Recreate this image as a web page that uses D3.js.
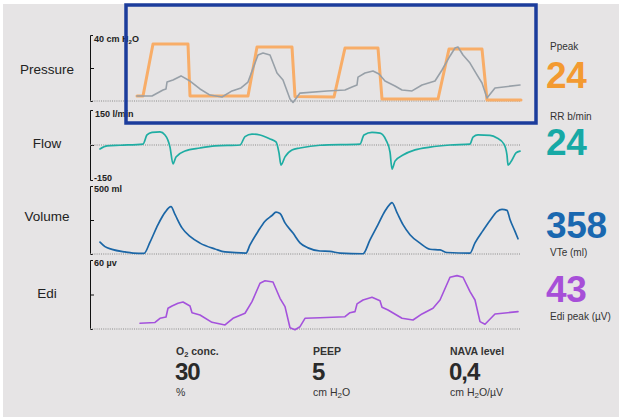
<!DOCTYPE html>
<html><head><meta charset="utf-8">
<script src="https://cdn.jsdelivr.net/npm/d3@7"></script>
<style>
html,body{margin:0;padding:0;background:#fff;}
svg{display:block;font-family:"Liberation Sans",Arial,Helvetica,sans-serif;}
</style></head>
<body>
<svg id="c" width="619" height="417"></svg>
<script>
// ---- data (time in seconds, values in units of each panel) ----
const pressureSet = [[1.175,3.0],[1.325,3.0],[1.575,34.5],[2.45,34.5],[2.5,3.0],[3.95,3.0],[4.175,32.7],[5.05,32.7],[5.125,2.7],[6.1,2.4],[6.375,32.1],[7.2,32.1],[7.3,1.2],[8.7,1.2],[8.975,31.5],[9.8,31.5],[9.925,0.6],[10.775,0.6]];
const pressureMeas = [[1.175,3.0],[1.55,3.0],[1.825,6.7],[1.9,7.3],[1.925,11.5],[2.075,12.7],[2.275,15.2],[2.5,12.1],[2.75,7.3],[3.0,3.6],[3.3,2.4],[3.55,6.1],[3.775,7.9],[3.95,11.5],[4.2,27.9],[4.325,29.1],[4.5,27.9],[4.675,17.0],[4.825,12.7],[5.0,1.2],[5.075,-0.9],[5.25,4.8],[5.925,6.1],[6.375,6.7],[6.55,8.5],[6.675,9.7],[6.7,14.5],[6.875,17.0],[7.075,18.2],[7.225,16.4],[7.375,12.1],[7.625,9.1],[7.8,6.7],[8.05,6.1],[8.3,9.7],[8.625,12.1],[8.8,18.8],[9.0,27.3],[9.125,32.1],[9.2,32.7],[9.325,27.9],[9.5,23.0],[9.675,15.8],[9.8,10.9],[9.925,1.8],[10.125,7.9],[10.75,9.7]];
const flowData = [[0.25,-17],[0.425,-4],[0.75,-1],[1.325,4],[1.425,43],[1.55,54],[1.75,56],[1.875,43],[2.0,-9],[2.075,-81],[2.15,-51],[2.375,-26],[2.75,-13],[3.125,-4],[3.75,0],[3.875,36],[4.05,47],[4.25,43],[4.5,26],[4.65,13],[4.725,-34],[4.775,-86],[4.875,-51],[5.05,-21],[5.25,-13],[5.75,-1],[6.75,4],[6.85,43],[7.05,54],[7.25,51],[7.4,21],[7.5,-30],[7.55,-103],[7.625,-69],[7.825,-43],[8.125,-21],[8.5,-9],[9.0,0],[9.5,4],[9.575,34],[9.7,43],[10.0,41],[10.175,30],[10.35,4],[10.425,-43],[10.45,-86],[10.55,-64],[10.65,-34],[10.75,-26]];
const volumeData = [[0.25,87],[0.375,54],[0.55,34],[0.875,15],[1.075,7],[1.35,4],[1.5,87],[1.7,216],[1.875,306],[2.025,348],[2.125,291],[2.3,192],[2.5,129],[2.75,80],[3.125,37],[3.375,15],[3.9,7],[4.0,67],[4.2,166],[4.375,241],[4.55,283],[4.65,308],[4.75,298],[4.875,229],[5.075,154],[5.25,82],[5.45,45],[5.75,22],[6.0,19],[6.25,7],[6.825,2],[7.0,104],[7.2,216],[7.375,316],[7.5,366],[7.55,378],[7.675,304],[7.825,216],[8.0,142],[8.25,80],[8.5,35],[8.75,30],[8.925,11],[9.5,7],[9.625,82],[9.825,172],[10.0,246],[10.175,311],[10.3,328],[10.425,321],[10.5,254],[10.625,166],[10.7,112]];
const ediData = [[1.25,5.0],[1.625,5.7],[1.75,9.3],[1.9,10.4],[1.95,18],[2.05,20],[2.2,22.4],[2.325,23.5],[2.5,20],[2.55,14.2],[2.75,12.2],[3.05,5.8],[3.375,3.5],[3.575,9.3],[3.875,13.7],[4.05,23.8],[4.25,39.8],[4.375,42],[4.575,40.9],[4.75,26.7],[4.875,19.4],[5.0,1.1],[5.125,-0.6],[5.25,2.0],[5.375,9.3],[5.75,9.8],[6.375,10.7],[6.5,14.2],[6.625,15.1],[6.675,21.8],[6.825,25.2],[7.05,27.6],[7.25,24.6],[7.3,18.9],[7.45,16.5],[7.8,9.3],[8.075,7.8],[8.3,13.1],[8.575,18],[8.75,25.2],[9.0,45],[9.175,46.4],[9.325,45],[9.5,32.5],[9.625,25.2],[9.75,6.4],[9.875,4.1],[10.125,13.1],[10.7,15.1]];

const panelNames = ["Pressure","Flow","Volume","Edi"];
const panelDomains = [[0,40],[-150,150],[0,500],[0,60]];
const readoutLabels = ["Ppeak","RR b/min","VTe (ml)","Edi peak (µV)"];
const readoutValues = ["24","24","358","43"];
const settingLabels = ["O2 conc.","PEEP","NAVA level"];
const settingValues = ["30","5","0,4"];
const settingUnits = ["%","cm H2O","cm H2O/µV"];

// ---- layout ----
const svg = d3.select("#c");
svg.append("rect").attr("x",3).attr("y",4).attr("width",616).attr("height",413).attr("fill","#e6e4e5");

const x = d3.scaleLinear().domain([0,10.75]).range([90,520]);
const panelRanges = [[101,35],[180,110],[254,186],[329,260]];
const ys = panelDomains.map((d,i)=>d3.scaleLinear().domain(d).range(panelRanges[i]));
const axisX = 90;

// left labels
const labelY = [74,148,221,298];
panelNames.forEach((n,i)=>{
  svg.append("text").attr("x",47).attr("y",labelY[i]).attr("text-anchor","middle")
    .attr("font-size",13.5).attr("fill","#222").text(n);
});

// axes (brackets)
ys.forEach((y,i)=>{
  const d = y.domain();
  const g = svg.append("g").attr("transform",`translate(${axisX},0)`)
    .call(d3.axisRight(y).tickValues([(d[0]+d[1])/2]).tickSizeInner(4).tickSizeOuter(3).tickFormat(""));
  g.selectAll("path,line").attr("stroke","#111").attr("stroke-width",1);
  svg.append("line").attr("x1",axisX).attr("x2",520).attr("y1",y(0)).attr("y2",y(0))
    .attr("stroke","#8a8a8a").attr("stroke-width",1).attr("stroke-dasharray","1,1.2");
});

// axis value labels
function smallLabel(xp, yp, parts){
  const t = svg.append("text").attr("x",xp).attr("y",yp).attr("font-size",9).attr("font-weight","bold").attr("fill","#222");
  parts.forEach(p=>{
    const s = t.append("tspan").text(p.t);
    if(p.sub) s.attr("font-size",6).attr("dy",2);
    if(p.after) s.attr("dy",-2);
  });
  return t;
}
smallLabel(94, ys[0](40)+6.5, [{t:"40 cm H"},{t:"2",sub:true},{t:"O",after:true}]);
smallLabel(95, ys[1](150)+7, [{t:"150 l/min"}]);
smallLabel(94, ys[1](-150)+0.5, [{t:"-150"}]);
smallLabel(94, ys[2](500)+6, [{t:"500 ml"}]);
smallLabel(94, ys[3](60)+5.5, [{t:"60 µv"}]);

// traces
function trace(data, y, color, w, curve){
  svg.append("path").datum(data)
    .attr("d", d3.line().x(d=>x(d[0])).y(d=>y(d[1])).curve(curve||d3.curveLinear))
    .attr("fill","none").attr("stroke",color).attr("stroke-width",w)
    .attr("stroke-linejoin","round").attr("stroke-linecap","round");
}
trace(pressureSet, ys[0], "#f8ad68", 3);
trace(pressureMeas, ys[0], "#98a0a8", 1.6);
trace(flowData, ys[1], "#1fada3", 1.7, d3.curveMonotoneX);
trace(volumeData, ys[2], "#1b66a6", 1.7, d3.curveMonotoneX);
trace(ediData, ys[3], "#a452dc", 1.6);

// right readouts
const readColors = ["#f39a31","#17a9a5","#1a68b0","#a74fd8"];
const readLabelY = [50,120,256,320];
const readValueY = [88,155,238,302];
readoutValues.forEach((v,i)=>{
  svg.append("text").attr("x",550).attr("y",readLabelY[i]).attr("font-size",10).attr("fill","#333").text(readoutLabels[i]);
  svg.append("text").attr("x",546).attr("y",readValueY[i]).attr("font-size",37).attr("font-weight","bold")
    .attr("letter-spacing",-0.3).attr("fill",readColors[i]).text(v);
});

// bottom settings
const setX = [176,313,450];
settingLabels.forEach((l,i)=>{
  const t = svg.append("text").attr("x",setX[i]).attr("y",355).attr("font-size",10.5).attr("font-weight","bold").attr("fill","#333");
  if(l.startsWith("O2")){
    t.append("tspan").text("O");
    t.append("tspan").text("2").attr("font-size",7.5).attr("dy",2);
    t.append("tspan").text(" conc.").attr("dy",-2);
  } else t.text(l);
  svg.append("text").attr("x",setX[i]-1).attr("y",380).attr("font-size",24).attr("font-weight","bold")
    .attr("letter-spacing",-1).attr("fill","#2a2a2a").text(settingValues[i]);
  const u = svg.append("text").attr("x",setX[i]).attr("y",396).attr("font-size",10.5).attr("fill","#333");
  const parts = settingUnits[i].split("H2O");
  if(parts.length>1){
    u.append("tspan").text(parts[0]+"H");
    u.append("tspan").text("2").attr("font-size",8).attr("dy",2);
    u.append("tspan").text("O"+parts[1]).attr("dy",-2);
  } else u.text(settingUnits[i]);
});

// highlight rectangle
svg.append("rect").attr("x",126).attr("y",5).attr("width",410).attr("height",118)
  .attr("fill","none").attr("stroke","#1c3c9c").attr("stroke-width",3.5);
</script>
</body></html>
